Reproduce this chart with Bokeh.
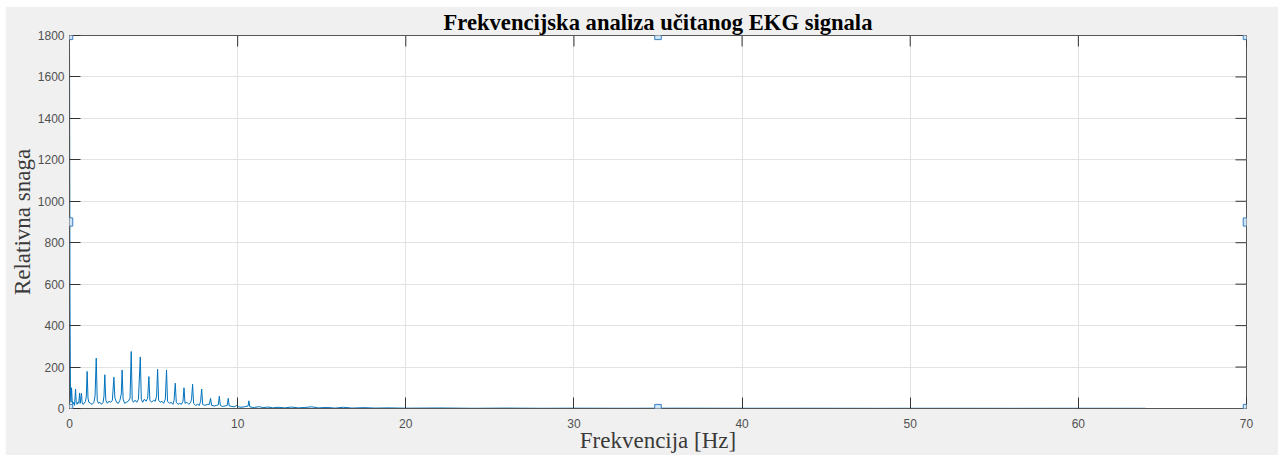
import math
from bokeh.plotting import figure
from bokeh.models import Range1d, Label, FixedTicker
from bokeh.embed import file_html
from bokeh.resources import INLINE

title_text = "Frekvencijska analiza učitanog EKG signala"
x_label = "Frekvencija [Hz]"
y_label = "Relativna snaga"
x_ticks = [0, 10, 20, 30, 40, 50, 60, 70]
y_ticks = [0, 200, 400, 600, 800, 1000, 1200, 1400, 1600, 1800]
X_MIN, X_MAX = 0, 70
Y_MIN, Y_MAX = 0, 1800

freq = [0.00, 0.03, 0.06, 0.09, 0.12, 0.16, 0.20, 0.26, 0.30, 0.36, 0.40, 0.45,
        0.50, 0.55, 0.60, 0.64, 0.71, 0.75, 0.80, 0.88, 0.95, 1.00, 1.05, 1.10,
        1.15, 1.25, 1.35, 1.45, 1.52, 1.59, 1.65, 1.72, 1.80, 1.90, 2.00, 2.05,
        2.10, 2.16, 2.25, 2.35, 2.45, 2.55, 2.64, 2.70, 2.80, 2.90, 3.00, 3.08,
        3.13, 3.19, 3.28, 3.38, 3.50, 3.60, 3.67, 3.73, 3.80, 3.90, 4.00, 4.10,
        4.21, 4.27, 4.35, 4.45, 4.55, 4.65, 4.72, 4.78, 4.88, 5.00, 5.10, 5.18,
        5.24, 5.30, 5.40, 5.50, 5.60, 5.70, 5.77, 5.83, 5.95, 6.05, 6.15, 6.22,
        6.29, 6.35, 6.45, 6.55, 6.65, 6.75, 6.81, 6.87, 6.98, 7.10, 7.20, 7.26,
        7.32, 7.38, 7.50, 7.62, 7.72, 7.80, 7.86, 7.92, 8.05, 8.20, 8.32, 8.39,
        8.45, 8.60, 8.75, 8.85, 8.91, 8.97, 9.10, 9.25, 9.38, 9.44, 9.50, 9.65,
        9.80, 9.95, 10.05, 10.20, 10.40, 10.62, 10.67, 10.72, 10.90, 11.00, 11.30,
        11.50, 11.80, 12.10, 12.40, 12.80, 13.20, 13.60, 14.00, 14.40, 14.80,
        15.30, 15.80, 16.30, 16.80, 17.50, 18.20, 19.00, 20.00, 22.00, 24.00,
        26.00, 28.00, 30.00, 33.00, 36.00, 40.00, 44.00, 48.00, 52.00, 56.00,
        60.00, 64.00]
power = [1800, 490, 60, 30, 100, 40, 20, 30, 15, 94, 30, 20,
         30, 25, 75, 25, 73, 30, 20, 25, 35, 60, 179, 50,
         30, 25, 20, 30, 60, 243, 40, 25, 30, 20, 30, 60,
         163, 40, 25, 35, 30, 40, 151, 50, 30, 25, 40, 70,
         186, 45, 25, 30, 35, 50, 275, 40, 30, 40, 30, 45,
         249, 45, 30, 45, 35, 50, 154, 40, 30, 40, 35, 60,
         189, 40, 30, 35, 25, 45, 186, 35, 25, 30, 20, 40,
         122, 30, 20, 25, 20, 35, 100, 25, 30, 20, 30, 45,
         117, 25, 15, 20, 15, 35, 94, 20, 15, 20, 20, 49,
         15, 12, 15, 18, 59, 15, 10, 12, 15, 49, 12, 10,
         8, 15, 8, 6, 8, 12, 37, 8, 5, 5, 9,
         4, 7, 3, 6, 3, 7, 3, 5, 8, 3,
         5, 2, 6, 2, 4, 2, 3, 1.5, 2.5, 1,
         2, 1, 1.5, 1, 1.5, 1, 1.2, 0.8, 1, 0.8,
         1, 0.8]

p = figure(width=1273, height=449, margin=(6, 4, 2, 5),
           x_range=Range1d(X_MIN, X_MAX), y_range=Range1d(Y_MIN, Y_MAX),
           output_backend="svg", toolbar_location=None,
           min_border_left=64, min_border_right=32, min_border_top=29, min_border_bottom=47,
           background_fill_color="white", border_fill_color="#f0f0f0",
           outline_line_color="#555555", outline_line_width=1)

p.title.text = title_text
p.title.align = "center"
p.title.text_font = "Liberation Serif"
p.title.text_font_size = "22.6px"
p.title.text_font_style = "bold"
p.title.text_color = "black"
p.title.standoff = 2
p.title.offset = 0

for ax in (p.xaxis[0], p.yaxis[0]):
    ax.axis_line_color = "#555555"
    ax.major_tick_line_color = "#333333"
    ax.major_tick_in = 11
    ax.major_tick_out = 0
    ax.minor_tick_line_color = None
    ax.major_label_text_font = "Liberation Sans"
    ax.major_label_text_font_size = "12px"
    ax.major_label_text_color = "#505050"
    ax.axis_label_text_font = "Liberation Serif"
    ax.axis_label_text_font_size = "23px"
    ax.axis_label_text_font_style = "normal"
    ax.axis_label_text_color = "#3a3a3a"

p.xaxis[0].ticker = FixedTicker(ticks=x_ticks)
p.yaxis[0].ticker = FixedTicker(ticks=y_ticks)
p.xaxis[0].axis_label = x_label
p.yaxis[0].axis_label = y_label
p.xaxis[0].major_label_standoff = 10
p.yaxis[0].major_label_standoff = 5
p.xaxis[0].axis_label_standoff = -3
p.yaxis[0].axis_label_standoff = 0

p.xgrid.ticker = FixedTicker(ticks=x_ticks)
p.ygrid.ticker = FixedTicker(ticks=y_ticks)
p.grid.grid_line_color = "#e3e3e3"
p.grid.grid_line_width = 1

# inward ticks on top and right edges of the box (outer half is clipped by the frame)
p.scatter(x_ticks, [Y_MAX] * len(x_ticks), marker="dash", size=22, angle=math.pi / 2,
          line_color="#333333", line_width=1)
p.scatter([X_MAX] * len(y_ticks), y_ticks, marker="dash", size=22,
          line_color="#333333", line_width=1)

p.line(freq, power, line_color="#0072BD", line_width=1)

X_MID = (X_MIN + X_MAX) / 2
Y_MID = (Y_MIN + Y_MAX) / 2
handle_x = [X_MIN, X_MIN, X_MIN, X_MID, X_MAX, X_MAX, X_MAX, X_MID]
handle_y = [Y_MIN, Y_MID, Y_MAX, Y_MAX, Y_MAX, Y_MID, Y_MIN, Y_MIN]
for hx, hy in zip(handle_x, handle_y):
    p.add_layout(Label(x=hx, y=hy, text=" ", text_font_size="2px",
                       text_align="center", text_baseline="middle",
                       background_fill_color="#cfe6f7", border_line_color="#3a7cc0",
                       border_line_width=1, padding=3))

html = file_html(p, INLINE)
open("out.html", "w").write(html)
